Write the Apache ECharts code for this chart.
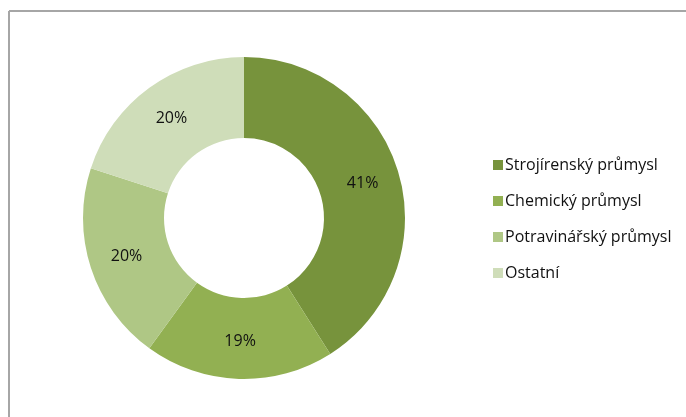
<!DOCTYPE html>
<html><head><meta charset="utf-8">
<script src="https://cdn.jsdelivr.net/npm/echarts@6/dist/echarts.min.js"></script>
<style>html,body{margin:0;padding:0;background:#fff}#c{width:686px;height:417px}</style>
</head><body><div id="c"></div>
<script>
const categories = ["Strojírenský průmysl", "Chemický průmysl", "Potravinářský průmysl", "Ostatní"];
const values = [41, 19, 20, 20];
const colors = ["#77933C", "#92B052", "#AFC785", "#CFDDB9"];

const chart = echarts.init(document.getElementById('c'), null, {renderer: 'canvas'});
chart.setOption({
  animation: false,
  color: colors,
  graphic: [
    {type: 'line', shape: {x1: 9, y1: 11, x2: 686, y2: 11}, style: {stroke: '#a6a6a6', lineWidth: 2}},
    {type: 'line', shape: {x1: 9, y1: 11, x2: 9, y2: 417}, style: {stroke: '#a6a6a6', lineWidth: 2}}
  ],
  legend: {
    orient: 'vertical',
    left: 488,
    top: 152,
    itemWidth: 10,
    itemHeight: 10,
    itemGap: 20,
    icon: 'rect',
    textStyle: {fontFamily: 'Open Sans', fontSize: 16, lineHeight: 16, color: '#111', padding: [0,0,0,-3]},
    data: categories
  },
  series: [{
    type: 'pie',
    center: [244, 218],
    radius: [80, 161],
    startAngle: 90,
    clockwise: true,
    avoidLabelOverlap: false,
    label: {
      show: true,
      position: 'inside',
      formatter: '{d}%',
      fontFamily: 'Open Sans',
      fontSize: 16,
      color: '#111'
    },
    labelLine: {show: false},
    itemStyle: {borderWidth: 0},
    emphasis: {disabled: true},
    data: categories.map((n, i) => ({name: n, value: values[i]}))
  }]
});
</script></body></html>
